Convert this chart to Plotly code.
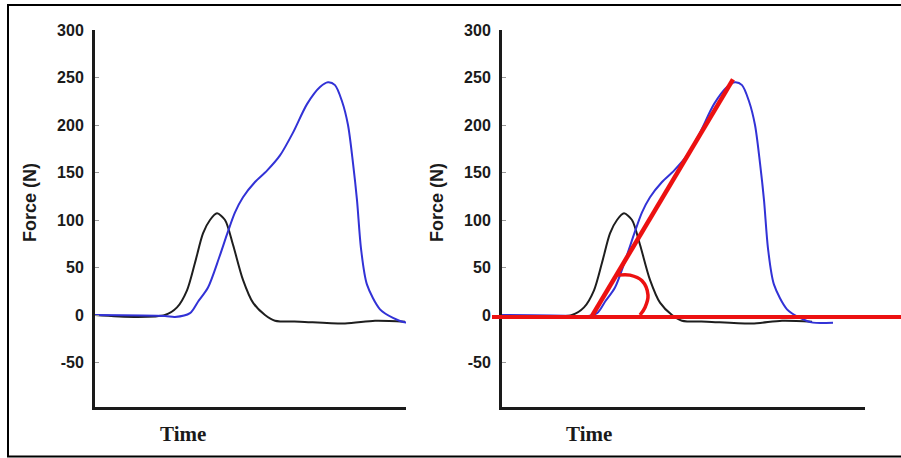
import plotly.graph_objects as go

W, H = 901, 458

# ---- data (time in arbitrary units, force in N) ----
black_t = [0, 40, 70, 82, 92, 100, 108, 115, 122, 130, 138, 148, 158, 170, 180, 205, 250, 280, 310]
black_f = [0, -2, 0, 8, 26, 55, 86, 100, 107, 100, 74, 37, 13, 0, -6, -7, -9, -6, -7]

blue_t = [0, 70, 80, 95, 103, 113, 124, 133, 140, 148, 160, 172, 185, 198, 212, 225, 233, 240, 247, 253, 258, 262, 266, 272, 285, 298, 311, 331]
blue_f = [0, -1, -2, 2, 14, 29, 60, 88, 108, 124, 140, 152, 168, 192, 222, 240, 245, 242, 225, 200, 160, 121, 70, 32, 6, -3, -8, -8]

# red construction lines on the right panel
slope_t = [90, 231]
slope_f = [-1, 248]
arc_t = [116, 128, 140, 146, 143, 138]
arc_f = [42, 42, 36, 21, 8, 0]
baseline_f = -2

yticks = [-50, 0, 50, 100, 150, 200, 250, 300]
yticklabels = ["-50", "0", "50", "100", "150", "200", "250", "300"]
ylabel = "Force (N)"
xlabel = "Time"


def px(x):
    return x / W


def py(y):
    return 1 - y / H


fig = go.Figure()

for xa, ya in (("x", "y"), ("x2", "y2")):
    fig.add_trace(go.Scatter(x=black_t, y=black_f, mode="lines", xaxis=xa, yaxis=ya,
                             line=dict(color="#1e1e1e", width=2, shape="spline", smoothing=0.8),
                             hoverinfo="skip"))
    fig.add_trace(go.Scatter(x=blue_t, y=blue_f, mode="lines", xaxis=xa, yaxis=ya,
                             line=dict(color="#3232d6", width=2, shape="spline", smoothing=0.8),
                             hoverinfo="skip"))

fig.add_trace(go.Scatter(x=slope_t, y=slope_f, mode="lines", xaxis="x2", yaxis="y2",
                         line=dict(color="#ec1111", width=4.5), hoverinfo="skip"))
fig.add_trace(go.Scatter(x=arc_t, y=arc_f, mode="lines", xaxis="x2", yaxis="y2",
                         line=dict(color="#ec1111", width=3.5, shape="spline", smoothing=1),
                         hoverinfo="skip"))

ydom = [py(407), py(30)]
yrange = [-96.8, 300]

yax = dict(domain=ydom, range=yrange, showgrid=False, zeroline=False, showline=True,
           automargin=False,
           linecolor="#1a1a1a", linewidth=3, ticks="inside", ticklen=4, tickwidth=1,
           tickcolor="#999999", tickvals=yticks, ticktext=yticklabels, ticklabelstandoff=5,
           tickfont=dict(family="Liberation Sans, Arial", size=16, color="#1a1a1a", weight="bold"))
xax = dict(showgrid=False, zeroline=False, showline=True, linecolor="#1a1a1a", linewidth=3,
           automargin=False, ticks="", showticklabels=False)

fig.update_layout(
    template="none",
    width=W, height=H, autosize=False,
    margin=dict(l=0, r=0, t=0, b=0, pad=0, autoexpand=False),
    paper_bgcolor="white", plot_bgcolor="white",
    showlegend=False,
    xaxis=dict(xax, domain=[px(95), px(406)], range=[0, 311], anchor="y"),
    yaxis=dict(yax, anchor="x"),
    xaxis2=dict(xax, domain=[px(502), px(865)], range=[0, 363], anchor="y2"),
    yaxis2=dict(yax, anchor="x2"),
)

# red baseline extending beyond the right axes
fig.add_shape(type="line", xref="paper", yref="y2", x0=px(492), x1=1.0,
              y0=baseline_f, y1=baseline_f, line=dict(color="#ec1111", width=4))

# outer frame
fig.add_shape(type="rect", xref="paper", yref="paper", x0=px(8), x1=1.02,
              y0=py(456.5), y1=py(5), line=dict(color="black", width=2), layer="above")

for xc in (30, 437):
    fig.add_annotation(x=px(xc), y=py(203), xref="paper", yref="paper", text=ylabel,
                       textangle=-90, showarrow=False, xanchor="center", yanchor="middle",
                       font=dict(family="Liberation Sans, Arial", size=18, color="#1a1a1a", weight="bold"))
for xc in (183, 589):
    fig.add_annotation(x=px(xc), y=py(434), xref="paper", yref="paper", text=xlabel,
                       showarrow=False, xanchor="center", yanchor="middle",
                       font=dict(family="Liberation Serif, Times New Roman", size=21, color="#1a1a1a", weight="bold"))

post = (
    "document.body.style.margin='0';"
    "document.body.style.overflow='hidden';"
    "var d=document.getElementById('{plot_id}');"
    "d.style.position='fixed';d.style.top='0px';d.style.left='0px';"
)

fig.write_html("out.html", config={"displayModeBar": False}, post_script=post)
